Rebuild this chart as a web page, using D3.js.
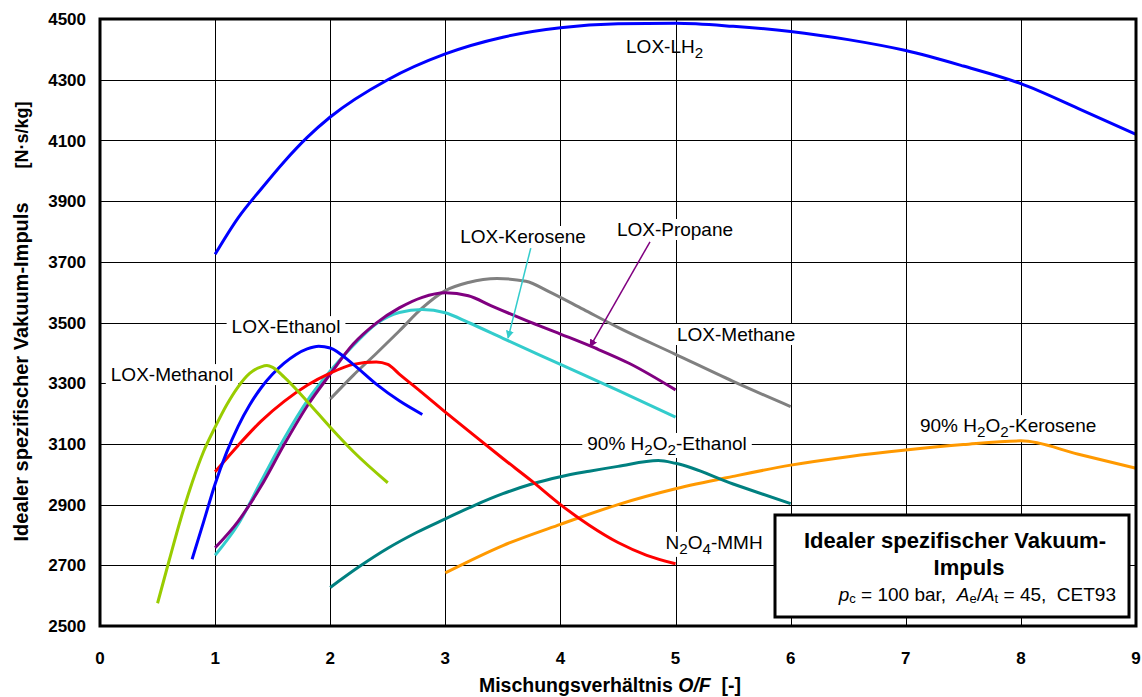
<!DOCTYPE html>
<html>
<head>
<meta charset="utf-8">
<script src="https://cdn.jsdelivr.net/npm/d3@7"></script>
<style>
  body { margin: 0; background: #fff; }
  svg { display: block; font-family: "Liberation Sans", Arial, sans-serif; }
</style>
</head>
<body>
<svg id="chart" width="1142" height="697"></svg>
<script>
// axis ticks
const xTicks = [0, 1, 2, 3, 4, 5, 6, 7, 8, 9];
const yTicks = [2500, 2700, 2900, 3100, 3300, 3500, 3700, 3900, 4100, 4300, 4500];

// O/F ratio vs. ideal vacuum Isp [N·s/kg]
const loxLH2 = [[1.0, 3725], [1.2, 3845], [1.4, 3940], [1.6, 4030], [1.8, 4110], [2.0, 4177], [2.5, 4300],
  [3.0, 4385], [3.5, 4440], [4.0, 4471], [4.5, 4484], [5.0, 4486], [5.5, 4476], [6.0, 4459], [6.5, 4432],
  [7.0, 4396], [7.5, 4345], [8.0, 4287], [8.5, 4205], [9.0, 4120]];
const loxMethanol = [[0.5, 2575], [0.6, 2715], [0.7, 2851], [0.8, 2972], [0.9, 3075], [1.0, 3155], [1.1, 3228],
  [1.2, 3288], [1.3, 3332], [1.4, 3354], [1.45, 3358], [1.5, 3352], [1.6, 3320], [1.8, 3240], [2.0, 3155],
  [2.2, 3075], [2.5, 2972]];
const loxEthanol = [[0.8, 2720], [0.9, 2843], [1.0, 2968], [1.1, 3072], [1.2, 3158], [1.3, 3228], [1.4, 3285],
  [1.5, 3330], [1.6, 3366], [1.7, 3394], [1.8, 3413], [1.9, 3422], [2.0, 3416], [2.2, 3362], [2.4, 3297],
  [2.6, 3242], [2.8, 3197]];
const n2o4MMH = [[1.0, 3008], [1.2, 3095], [1.4, 3175], [1.6, 3240], [1.8, 3293], [2.0, 3333], [2.2, 3362],
  [2.4, 3370], [2.5, 3362], [2.6, 3330], [2.8, 3268], [3.0, 3205], [3.25, 3128], [3.5, 3052], [3.75, 2978],
  [4.0, 2900], [4.25, 2832], [4.5, 2775], [4.75, 2733], [5.0, 2705]];
const loxKerosene = [[1.0, 2733], [1.2, 2835], [1.4, 2977], [1.6, 3118], [1.8, 3242], [2.0, 3340], [2.2, 3424],
  [2.4, 3496], [2.6, 3533], [2.8, 3543], [3.0, 3532], [3.2, 3500], [3.5, 3448], [4.0, 3362], [4.5, 3276],
  [5.0, 3188]];
const loxPropane = [[1.0, 2758], [1.2, 2845], [1.4, 2961], [1.6, 3098], [1.8, 3225], [2.0, 3330], [2.2, 3429],
  [2.4, 3498], [2.6, 3548], [2.8, 3583], [3.0, 3598], [3.2, 3588], [3.4, 3555], [3.7, 3507], [4.0, 3462],
  [4.3, 3416], [4.6, 3365], [5.0, 3278]];
const loxMethane = [[2.0, 3248], [2.2, 3326], [2.4, 3398], [2.6, 3472], [2.8, 3548], [3.0, 3605], [3.2, 3632],
  [3.45, 3645], [3.7, 3636], [3.9, 3602], [4.2, 3543], [4.5, 3484], [5.0, 3395], [5.5, 3306], [6.0, 3223]];
const h2o2Ethanol = [[2.0, 2627], [2.25, 2695], [2.5, 2756], [2.75, 2808], [3.0, 2853], [3.25, 2897], [3.5, 2936],
  [3.75, 2968], [4.0, 2992], [4.25, 3010], [4.5, 3026], [4.85, 3045], [5.0, 3036], [5.5, 2968], [6.0, 2903]];
const h2o2Kerosene = [[3.0, 2675], [3.5, 2765], [4.0, 2835], [4.5, 2900], [5.0, 2952], [5.5, 2993], [6.0, 3030],
  [6.5, 3058], [7.0, 3080], [7.5, 3098], [8.0, 3110], [8.5, 3066], [9.0, 3020]];

const series = [
  { data: loxLH2, color: '#0000ff' },
  { data: h2o2Kerosene, color: '#ff9900' },
  { data: h2o2Ethanol, color: '#008080' },
  { data: loxMethane, color: '#808080' },
  { data: loxKerosene, color: '#33cccc' },
  { data: loxPropane, color: '#800080' },
  { data: n2o4MMH, color: '#ff0000' },
  { data: loxEthanol, color: '#0000ff' },
  { data: loxMethanol, color: '#99cc00' },
];

// curve labels, placed in data units; "_n" = subscript
const labels = [
  { text: 'LOX-LH_2', x: 4.57, y: 4388, anchor: 'start', box: false },
  { text: 'LOX-Kerosene', x: 3.675, y: 3762, anchor: 'middle', box: true },
  { text: 'LOX-Propane', x: 4.995, y: 3785, anchor: 'middle', box: true },
  { text: 'LOX-Methane', x: 5.526, y: 3439, anchor: 'middle', box: true },
  { text: 'LOX-Ethanol', x: 1.616, y: 3465, anchor: 'middle', box: true },
  { text: 'LOX-Methanol', x: 0.626, y: 3307, anchor: 'middle', box: true },
  { text: '90% H_2O_2-Ethanol', x: 4.926, y: 3080, anchor: 'middle', box: true },
  { text: 'N_2O_4-MMH', x: 4.913, y: 2754, anchor: 'start', box: true },
  { text: '90% H_2O_2-Kerosene', x: 7.889, y: 3139, anchor: 'middle', box: true },
];

// leader arrows from label to curve
const leaders = [
  { from: [3.742, 3745], to: [3.545, 3449], color: '#33cccc' },
  { from: [4.778, 3766], to: [4.257, 3420], color: '#800080' },
];

const svg = d3.select('#chart');
const x = d3.scaleLinear().domain([0, 9]).range([100, 1136]);
const y = d3.scaleLinear().domain([2500, 4500]).range([626, 19]);

svg.append('rect').attr('width', 1142).attr('height', 697).attr('fill', '#fff');

// grid
const grid = svg.append('g').attr('shape-rendering', 'crispEdges');
grid.selectAll('line.v').data(xTicks.slice(1, -1)).enter().append('line')
  .attr('x1', d => Math.round(x(d)) + 0.5).attr('x2', d => Math.round(x(d)) + 0.5)
  .attr('y1', y(4500)).attr('y2', y(2500))
  .attr('stroke', '#000').attr('stroke-width', 1);
grid.selectAll('line.h').data(yTicks.slice(1, -1)).enter().append('line')
  .attr('y1', d => Math.round(y(d)) + 0.5).attr('y2', d => Math.round(y(d)) + 0.5)
  .attr('x1', x(0)).attr('x2', x(9))
  .attr('stroke', '#000').attr('stroke-width', 1);

// axis tick labels
svg.append('g').selectAll('text').data(yTicks).enter().append('text')
  .attr('x', 86).attr('y', d => y(d)).attr('dy', '0.36em')
  .attr('text-anchor', 'end').attr('font-weight', 'bold').attr('font-size', 17)
  .text(d => d);
svg.append('g').selectAll('text').data(xTicks).enter().append('text')
  .attr('x', d => x(d)).attr('y', 664)
  .attr('text-anchor', 'middle').attr('font-weight', 'bold').attr('font-size', 17)
  .text(d => d);

// axis titles
const xt = svg.append('text').attr('x', 610).attr('y', 692)
  .attr('text-anchor', 'middle').attr('font-weight', 'bold').attr('font-size', 19.5)
  .style('white-space', 'pre');
xt.append('tspan').text('Mischungsverhältnis ');
xt.append('tspan').attr('font-style', 'italic').text('O/F');
xt.append('tspan').text('  [-]');

svg.append('text').attr('transform', 'translate(28,372) rotate(-90)')
  .attr('text-anchor', 'middle').attr('font-weight', 'bold').attr('font-size', 20)
  .text('Idealer spezifischer Vakuum-Impuls');
svg.append('text').attr('transform', 'translate(28,135) rotate(-90)')
  .attr('text-anchor', 'middle').attr('font-weight', 'bold').attr('font-size', 18)
  .text('[N·s/kg]');

// label layer: white boxes below the curves, text above
const boxLayer = svg.append('g');
const curveLayer = svg.append('g');
const textLayer = svg.append('g');

function richText(sel, str) {
  let low = false;
  str.split(/(_\d)/).forEach(p => {
    if (!p) return;
    if (p[0] === '_') {
      sel.append('tspan').attr('dy', low ? null : 5).attr('font-size', '0.8em').text(p.slice(1));
      low = true;
    } else {
      sel.append('tspan').attr('dy', low ? -5 : null).text(p);
      low = false;
    }
  });
}

const line = d3.line().x(d => x(d[0])).y(d => y(d[1])).curve(d3.curveMonotoneX);
curveLayer.selectAll('path').data(series).enter().append('path')
  .attr('d', d => line(d.data))
  .attr('fill', 'none')
  .attr('stroke', d => d.color)
  .attr('stroke-width', 3)
  .attr('stroke-linejoin', 'round');

const defs = svg.append('defs');
leaders.forEach((l, i) => {
  defs.append('marker').attr('id', 'arrow' + i)
    .attr('viewBox', '0 0 10 10').attr('refX', 9).attr('refY', 5)
    .attr('markerWidth', 8).attr('markerHeight', 8).attr('markerUnits', 'userSpaceOnUse')
    .attr('orient', 'auto')
    .append('path').attr('d', 'M0,0 L10,5 L0,10 z').attr('fill', l.color);
});
curveLayer.selectAll('line.leader').data(leaders).enter().append('line')
  .attr('x1', d => x(d.from[0])).attr('y1', d => y(d.from[1]))
  .attr('x2', d => x(d.to[0])).attr('y2', d => y(d.to[1]))
  .attr('stroke', d => d.color).attr('stroke-width', 1.5)
  .attr('marker-end', (d, i) => `url(#arrow${i})`);

labels.forEach(l => {
  const t = textLayer.append('text')
    .attr('x', x(l.x)).attr('y', y(l.y))
    .attr('text-anchor', l.anchor).attr('font-size', 19).attr('fill', '#000');
  richText(t, l.text);
  if (l.box) {
    const b = t.node().getBBox();
    boxLayer.append('rect')
      .attr('x', b.x - 5).attr('y', b.y)
      .attr('width', b.width + 10).attr('height', b.height)
      .attr('fill', '#fff');
  }
});

// plot frame
svg.append('rect')
  .attr('x', x(0)).attr('y', y(4500))
  .attr('width', x(9) - x(0)).attr('height', y(2500) - y(4500))
  .attr('fill', 'none').attr('stroke', '#000').attr('stroke-width', 3);

// info box
const info = svg.append('g');
info.append('rect').attr('x', 775).attr('y', 515).attr('width', 354).attr('height', 102)
  .attr('fill', '#fff').attr('stroke', '#000').attr('stroke-width', 3);
info.append('text').attr('x', 955).attr('y', 548).attr('text-anchor', 'middle')
  .attr('font-weight', 'bold').attr('font-size', 22).text('Idealer spezifischer Vakuum-');
info.append('text').attr('x', 969).attr('y', 575).attr('text-anchor', 'middle')
  .attr('font-weight', 'bold').attr('font-size', 22).text('Impuls');
const sub = info.append('text').attr('x', 1116).attr('y', 601).attr('text-anchor', 'end')
  .attr('font-size', 19).style('white-space', 'pre');
sub.append('tspan').attr('font-style', 'italic').text('p');
sub.append('tspan').attr('font-size', 13).attr('dy', 2).text('c');
sub.append('tspan').attr('dy', -2).text(' = 100 bar,  ');
sub.append('tspan').attr('font-style', 'italic').text('A');
sub.append('tspan').attr('font-size', 13).attr('dy', 2).text('e');
sub.append('tspan').attr('dy', -2).text('/');
sub.append('tspan').attr('font-style', 'italic').text('A');
sub.append('tspan').attr('font-size', 13).attr('dy', 2).text('t');
sub.append('tspan').attr('dy', -2).text(' = 45,  CET93');
</script>
</body>
</html>
